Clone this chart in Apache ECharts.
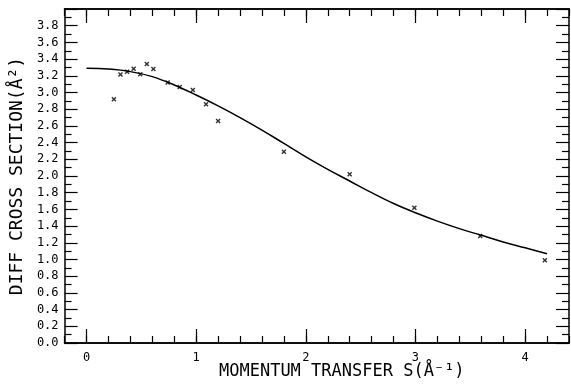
<!DOCTYPE html>
<html>
<head>
<meta charset="utf-8">
<script src="https://cdn.jsdelivr.net/npm/echarts@6/dist/echarts.min.js"></script>
<style>
  html, body { margin: 0; padding: 0; background: #fff; }
  #chart { width: 571px; height: 385px; }
</style>
</head>
<body>
<div id="chart"></div>
<script>
// fitted curve
const curveS = [0, 0.2, 0.4, 0.6, 0.8, 1.0, 1.2, 1.4, 1.6, 1.8, 2.0, 2.2, 2.4, 2.6, 2.8, 3.0, 3.2, 3.4, 3.6, 3.8, 4.0, 4.2]
const curveValues = [3.29, 3.28, 3.25, 3.19, 3.09, 2.97, 2.84, 2.70, 2.55, 2.39, 2.23, 2.08, 1.94, 1.80, 1.67, 1.56, 1.46, 1.37, 1.29, 1.21, 1.14, 1.07]

// measured points (x marks)
const pointS = [0.25, 0.31, 0.37, 0.43, 0.49, 0.55, 0.61, 0.74, 0.85, 0.97, 1.09, 1.2, 1.8, 2.4, 2.99, 3.59, 4.18]
const pointValues = [2.92, 3.215, 3.25, 3.285, 3.22, 3.34, 3.28, 3.12, 3.065, 3.03, 2.86, 2.66, 2.29, 2.02, 1.62, 1.28, 0.99]

const xMajorTicks = [0, 1, 2, 3, 4]

const font = 'DejaVu Sans Mono'
const black = '#000'

const chart = echarts.init(document.getElementById('chart'), null, { renderer: 'canvas' })

const xBase = {
  type: 'value',
  min: -0.2,
  max: 4.4,
  axisLine: { onZero: false, lineStyle: { color: black, width: 1.5 } },
  splitLine: { show: false },
}
const minorX = (pos) => ({
  ...xBase,
  position: pos,
  interval: 0.2,
  axisTick: { inside: true, length: 7, lineStyle: { color: black, width: 1.2 } },
  axisLabel: { show: false },
})
const majorX = (pos, labels) => ({
  ...xBase,
  position: pos,
  axisTick: { inside: true, length: 14, customValues: xMajorTicks, lineStyle: { color: black, width: 1.2 } },
  axisLabel: labels
    ? { customValues: xMajorTicks, color: black, fontFamily: font, fontSize: 12, margin: 9 }
    : { show: false },
})
const yAxisCfg = (pos, labels) => ({
  type: 'value',
  position: pos,
  min: 0,
  max: 4,
  interval: 0.2,
  axisLine: { show: true, onZero: false, lineStyle: { color: black, width: 1.5 } },
  axisTick: { show: true, inside: true, length: 13, lineStyle: { color: black, width: 1.2 } },
  minorTick: { show: true, splitNumber: 2, length: 7, lineStyle: { color: black, width: 1.2 } },
  splitLine: { show: false },
  axisLabel: labels
    ? {
        color: black, fontFamily: font, fontSize: 12, margin: 6,
        formatter: (v) => (v > 3.95 ? '' : v.toFixed(1)),
      }
    : { show: false },
})

const xAxes = [minorX('bottom'), majorX('bottom', true), minorX('top'), majorX('top', false)]
xAxes[0].name = 'MOMENTUM TRANSFER S(Å⁻¹)'
xAxes[0].nameLocation = 'middle'
xAxes[0].nameGap = 20
xAxes[0].nameTextStyle = { color: black, fontFamily: font, fontSize: 17, padding: [0, 0, 0, 50] }

const yAxes = [yAxisCfg('left', true), yAxisCfg('right', false)]
yAxes[0].name = 'DIFF CROSS SECTION(Å²)'
yAxes[0].nameLocation = 'middle'
yAxes[0].nameGap = 36
yAxes[0].nameTextStyle = { color: black, fontFamily: font, fontSize: 18 }

chart.setOption({
  backgroundColor: '#fff',
  animation: false,
  grid: { left: 61, right: 2, top: 9, bottom: 38 },
  xAxis: xAxes,
  yAxis: yAxes,
  series: [
    {
      type: 'line',
      xAxisIndex: 0,
      yAxisIndex: 0,
      data: curveS.map((s, i) => [s, curveValues[i]]),
      smooth: 0.4,
      symbol: 'none',
      lineStyle: { color: black, width: 1.5 },
    },
    {
      type: 'scatter',
      xAxisIndex: 0,
      yAxisIndex: 0,
      data: pointS.map((s, i) => [s, pointValues[i]]),
      symbol: 'path://M0,2L2,0L5,3L8,0L10,2L7,5L10,8L8,10L5,7L2,10L0,8L3,5Z',
      symbolSize: 5,
      itemStyle: { color: black },
    },
  ],
})
</script>
</body>
</html>
